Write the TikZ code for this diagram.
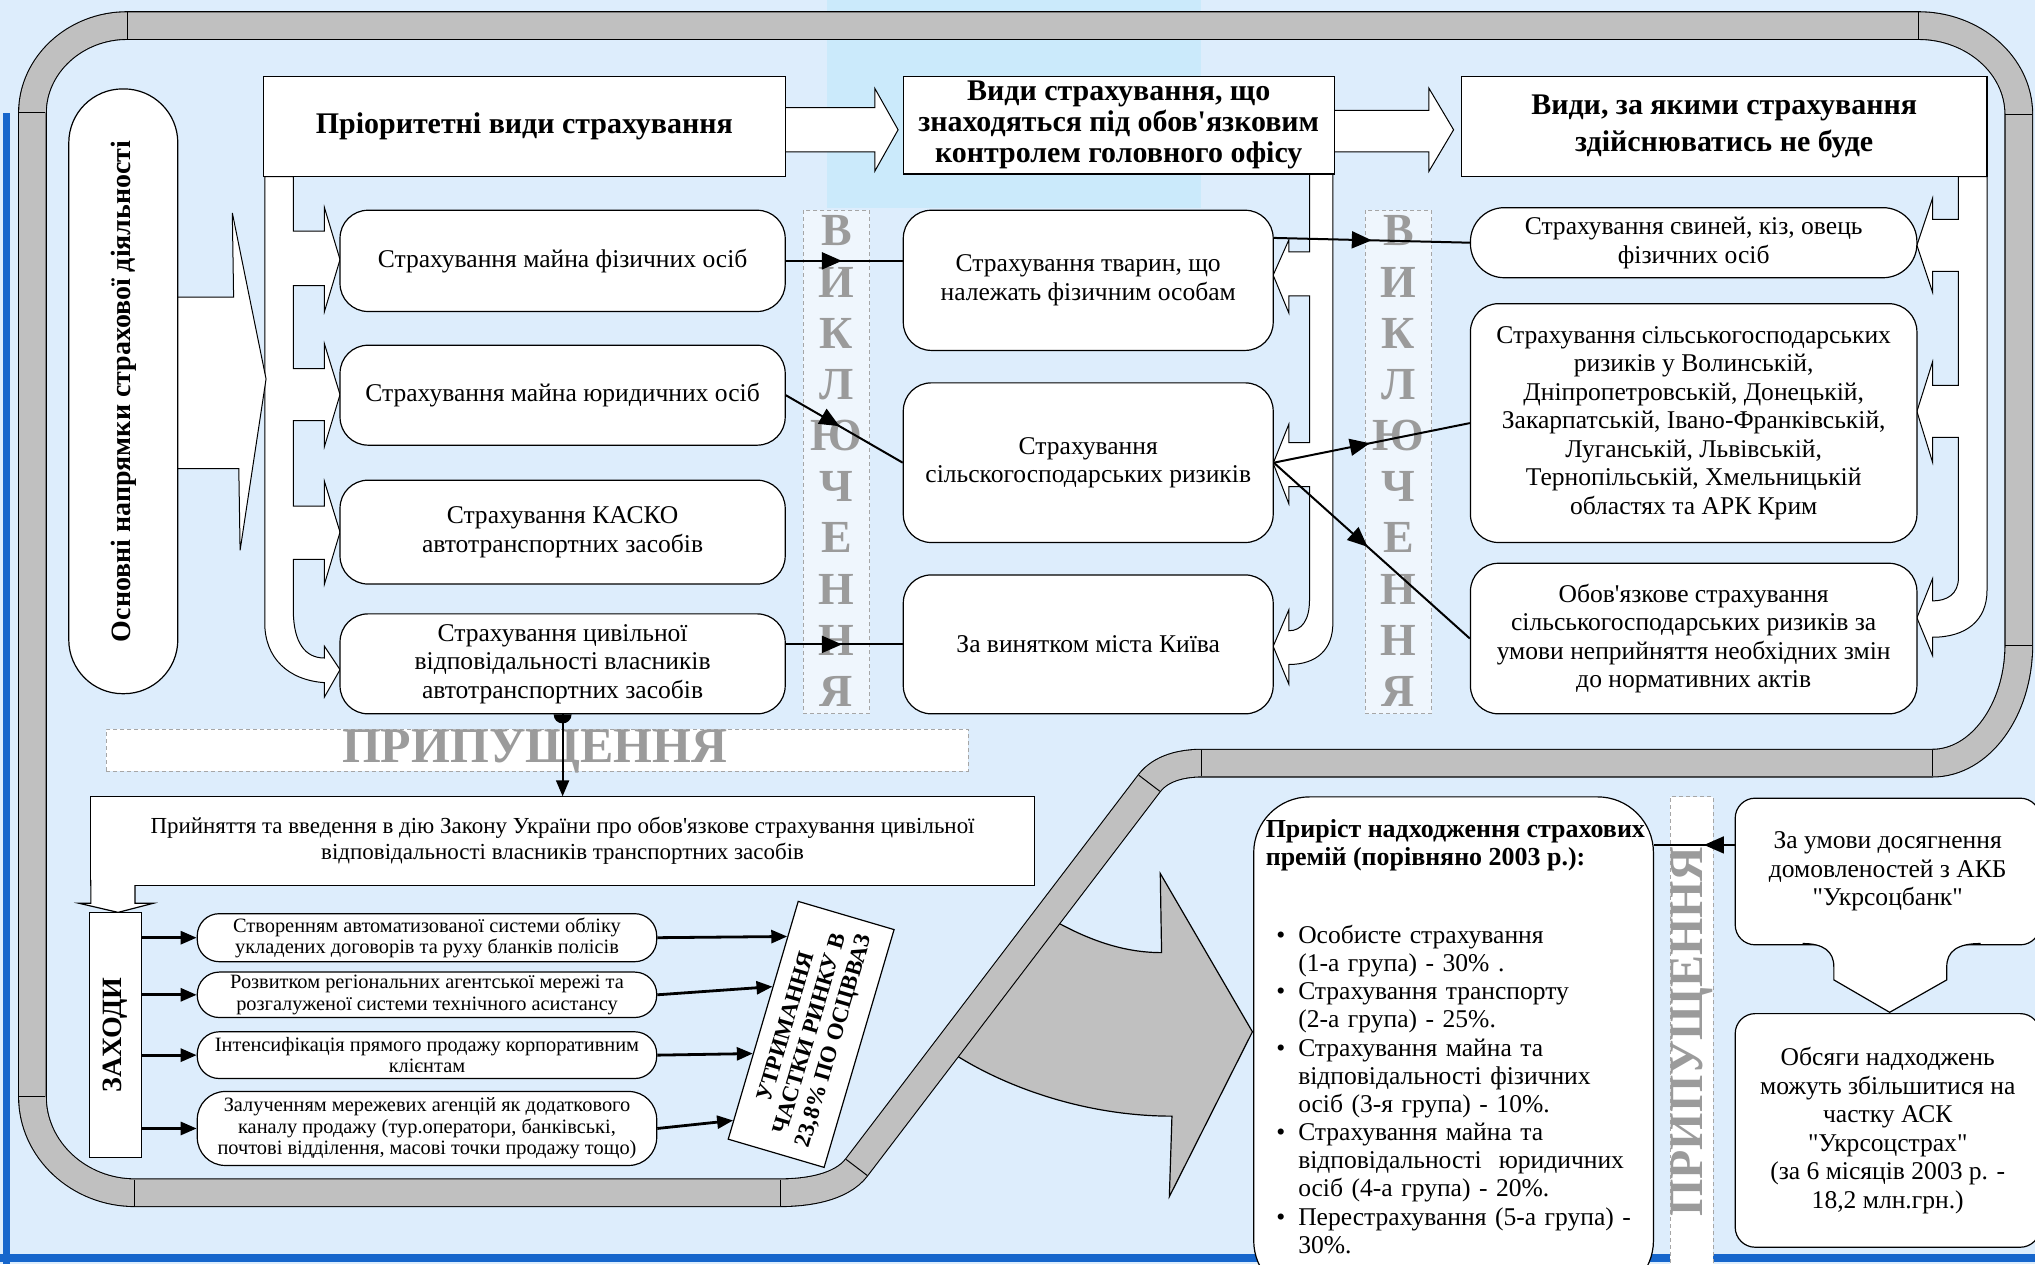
\documentclass[tikz,border=0pt]{standalone}
\usepackage{fontspec}
\setmainfont{Liberation Serif}
\usetikzlibrary{arrows.meta,calc,decorations.markings}

\definecolor{bgblue}{RGB}{221,237,252}
\definecolor{bandcyan}{RGB}{203,234,251}
\definecolor{edgeblue}{RGB}{22,102,204}
\definecolor{pipegray}{RGB}{192,192,192}
\definecolor{lettergray}{RGB}{155,155,155}

\newcommand{\pxu}{0.65pt}
\newcommand{\bodyfont}{\fontsize{12.8}{14.3}\selectfont}
\newcommand{\headfont}{\fontsize{15}{15.6}\selectfont\bfseries}
\newcommand{\smallfont}{\fontsize{10.2}{10.8}\selectfont}
\newcommand{\lawfont}{\fontsize{11.5}{13}\selectfont}
\newcommand{\ap}{\textquotesingle}
\newcommand{\qq}{\textquotedbl}

\begin{document}
\begin{tikzpicture}[
    x=0.65pt, y=-0.65pt,
    font=\bodyfont,
    sz/.style 2 args={minimum width={#1*\pxu}, minimum height={#2*\pxu}},
    box/.style={draw, fill=white, align=center, inner sep=1pt, line width=0.6pt},
    rbox/.style={box, rounded corners=14pt},
    head/.style={box, font=\headfont},
    pill/.style={box, rounded corners=#1, inner sep=0.5pt, font=\smallfont},
    pill/.default=11pt,
    strip/.style={draw=gray!70, dash pattern=on 2pt off 1.5pt, fill=white, fill opacity=0.55},
    vletter/.style={text=lettergray, font=\fontsize{23}{23}\selectfont\bfseries, inner sep=0pt},
    hollow/.style={draw, fill=white, line width=0.5pt},
    marr/.style={line width=1pt, postaction={decorate},
      decoration={markings, mark=at position #1 with {\arrow{Triangle[length=10pt,width=8.5pt]}}}},
    arr/.style={-{Triangle[length=8pt,width=6.5pt]}, line width=1.4pt}
  ]
  \useasboundingbox (0,0) rectangle (1568,974);
  \clip (0,0) rectangle (1568,974);

  % background
  \fill[bgblue] (0,0) rectangle (1568,974);
  \fill[bandcyan] (637,0) rectangle (925,160);
  \fill[edgeblue] (2,87) rectangle (8,974);
  \fill[edgeblue] (0,966) rectangle (1568,972);

  % big gray arrow under the pipe
  \filldraw[fill=pipegray, line width=0.6pt] (803,706) -- (817,712)
    .. controls (845,727) and (870,734) .. (895,734) -- (894,673) -- (965,795)
    -- (901,922) -- (903,860) .. controls (840,860) and (780,840) .. (738,814)
    -- (728,806) -- cycle;

  % pipe
  \draw[pipegray, line width=13.3pt, preaction={draw=black, line width=14.4pt}]
    (98,19.7) -- (1478,19.7) .. controls (1520.6,19.7) and (1555.5,50.4) .. (1555.5,88)
    -- (1555.5,497) .. controls (1555.5,547) and (1525.6,588) .. (1489,588)
    -- (926,588) .. controls (911,588) and (894.6,591.6) .. (885.5,603.5)
    -- (660,899.5) .. controls (647.9,915.4) and (621,919) .. (601,919)
    -- (104,919) .. controls (60.6,919) and (25,885.7) .. (25,845)
    -- (25,87) .. controls (25,50) and (57.9,19.7) .. (98,19.7) -- cycle;
  \foreach \xa/\ya/\xb/\yb in {98/9.4/98/30, 1478/9.4/1478/30, 1545/88/1566/88,
      1545/497/1566/497, 1489/578/1489/598, 926/578/926/598,
      877.4/597.3/893.7/609.7, 651.9/893.3/668.2/905.7,
      601/909/601/929, 104/909/104/929, 15/845/35/845, 15/87/35/87}
    \draw[line width=0.5pt] (\xa,\ya) -- (\xb,\yb);

  % dashed strips
  \node[strip, sz={51}{388}] (excl1) at (644.5,356) {};
  \node[strip, sz={51}{388}] (excl2) at (1077.5,356) {};
  \node[strip, sz={664}{32}, fill opacity=1] (assum1) at (414,578) {};
  \node[strip, sz={33}{380}, fill opacity=1] (assum2) at (1303.5,804) {};
  \foreach \ch [count=\i] in {В,И,К,Л,Ю,Ч,Е,Н,Н,Я} {
    \node[vletter] (exa\i) at (644.5,{178+39.4*(\i-1)}) {\ch};
    \node[vletter] (exb\i) at (1077.5,{178+39.4*(\i-1)}) {\ch};
  }
  \node[text=lettergray, font=\fontsize{25}{25}\selectfont\bfseries, inner sep=0pt]
    (assumtxt1) at (412,579) {ПРИПУЩЕННЯ};
  \node[text=lettergray, font=\fontsize{24}{24}\selectfont\bfseries, inner sep=0pt, rotate=90]
    (assumtxt2) at (1304,795) {ПРИПУЩЕННЯ};

  % header block arrows
  \filldraw[hollow] (605,83) -- (674,83) -- (674,68) -- (692,100) -- (674,132) -- (674,117) -- (605,117);
  \filldraw[hollow] (1028,85) -- (1101,85) -- (1101,68) -- (1120,100) -- (1101,132) -- (1101,117) -- (1028,117);

  % brackets
  \filldraw[hollow] (204,136) -- (226,136) -- (226,178) -- (250,178) -- (250,160) -- (262,200)
    -- (250,240) -- (250,220) -- (226,220) -- (226,284) -- (250,284) -- (250,265) -- (262,304)
    -- (250,344) -- (250,324) -- (226,324) -- (226,390) -- (250,390) -- (250,371) -- (262,410)
    -- (250,450) -- (250,431) -- (226,431) -- (226,470) .. controls (226,495) and (235,507) .. (250,507)
    -- (250,498) -- (262,516) -- (250,537) -- (250,526) .. controls (222,524) and (204,507) .. (204,480)
    -- cycle;
  \filldraw[hollow] (1027,134) -- (1009,134) -- (1009,194) -- (993,194) -- (993,185) -- (981,212)
    -- (993,241) -- (993,228) -- (1009,228) -- (1009,341) -- (993,341) -- (993,327) -- (981,357)
    -- (993,388) -- (993,375) -- (1009,375) -- (1009,462) .. controls (1009,478) and (1003,486) .. (993,486)
    -- (993,470) -- (981,498) -- (993,527) -- (993,512) .. controls (1015,512) and (1027,500) .. (1027,480)
    -- cycle;
  \filldraw[hollow] (1531,136) -- (1509,136) -- (1509,169) -- (1489,169) -- (1489,153) -- (1477,189)
    -- (1489,225) -- (1489,209) -- (1509,209) -- (1509,297) -- (1489,297) -- (1489,279) -- (1477,317)
    -- (1489,356) -- (1489,337) -- (1509,337) -- (1509,445) .. controls (1509,458) and (1500,463) .. (1489,463)
    -- (1489,446) -- (1477,476) -- (1489,505) -- (1489,491) .. controls (1515,491) and (1531,478) .. (1531,455)
    -- cycle;

  % main directions
  \filldraw[hollow] (100,229) -- (180,229) -- (179,164) -- (205,292) -- (185,424) -- (184,361) -- (100,361) -- cycle;
  \node[box, rotate=90, rounded corners=27pt, sz={466}{84}, font=\fontsize{14}{14}\selectfont\bfseries]
    (dirs) at (95,301.5) {Основні напрямки страхової діяльності};

  % headers
  \node[head, sz={402}{77}] (prio) at (404,97.5) {Пріоритетні види страхування};
  \node[head, sz={332}{75}] (ctrl) at (862,96.5)
    {Види страхування, що\\знаходяться під обов\ap{}язковим\\контролем головного офісу};
  \node[head, sz={405}{77}] (excl) at (1328.5,97.5) {Види, за якими страхування\\[3pt]здійснюватись не буде};

  % priority kinds
  \node[rbox, sz={343}{78}] (prop) at (433.5,201) {Страхування майна фізичних осіб};
  \node[rbox, sz={343}{77}] (legal) at (433.5,304.5) {Страхування майна юридичних осіб};
  \node[rbox, sz={343}{80}] (casco) at (433.5,410) {Страхування КАСКО\\автотранспортних засобів};
  \node[rbox, sz={343}{77}] (mtpl) at (433.5,511.5)
    {Страхування цивільної\\відповідальності власників\\автотранспортних засобів};

  % controlled kinds
  \node[rbox, sz={285}{108}] (anim) at (838.5,216) {Страхування тварин, що\\належать фізичним особам};
  \node[rbox, sz={285}{123}] (agri) at (838.5,356.5) {Страхування\\сільскогосподарських ризиків};
  \node[rbox, sz={285}{107}] (kyiv) at (838.5,496.5) {За винятком міста Київа};

  % excluded kinds
  \node[box, rounded corners=17pt, sz={344}{54}] (pigs) at (1305,187)
    {Страхування свиней, кіз, овець\\фізичних осіб};
  \node[rbox, sz={344}{184}] (regions) at (1305,326)
    {Страхування сільськогосподарських\\ризиків у Волинській,\\Дніпропетровській, Донецькій,\\Закарпатській, Івано-Франківській,\\Луганській, Львівській,\\Тернопільській, Хмельницькій\\областях та АРК Крим};
  \node[rbox, sz={344}{116}] (mand) at (1305,492)
    {Обов\ap{}язкове страхування\\сільськогосподарських ризиків за\\умови неприйняття необхідних змін\\до нормативних актів};

  % law and measures
  \node[box, sz={727}{68}, font=\lawfont] (law) at (433.5,648)
    {Прийняття та введення в дію Закону України про обов\ap{}язкове страхування цивільної\\відповідальності власників транспортних засобів};
  \fill[white] (70,680) -- (70,696) -- (61,696) -- (91,703) -- (118,696) -- (104,696) -- (104,680) -- cycle;
  \draw[line width=0.6pt] (70,678) -- (70,696) -- (61,696) -- (91,703) -- (118,696) -- (104,696) -- (104,682);
  \node[box, rotate=90, sz={189}{40}, font=\fontsize{14}{14}\selectfont\bfseries] (meas) at (89,797.5) {ЗАХОДИ};

  \node[pill, sz={354}{37}] (acc) at (329,722.5)
    {Створенням автоматизованої системи обліку\\укладених договорів та руху бланків полісів};
  \node[pill, sz={354}{35}] (agents) at (329,766.5)
    {Розвитком регіональних агентської мережі та\\розгалуженої системи технічного асистансу};
  \node[pill, sz={354}{36}] (direct) at (329,813)
    {Інтенсифікація прямого продажу корпоративним\\клієнтам};
  \node[pill=14pt, sz={354}{57}] (network) at (329,869.5)
    {Залученням мережевих агенцій як додаткового\\каналу продажу (тур.оператори, банківські,\\почтові відділення, масові точки продажу тощо)};

  \node[box, rotate=73.6, sz={191}{77}, font=\fontsize{11.5}{12.5}\selectfont\bfseries] (hold) at (625,797)
    {УТРИМАННЯ\\ЧАСТКИ РИНКУ В\\23,8\% ПО ОСЦВВАЗ};

  % premiums
  \node[box, rounded corners=28pt, sz={308}{385}] (prem) at (1120,806.5) {};
  \node[anchor=north west, align=left, inner sep=0pt, font=\fontsize{13}{14.3}\selectfont\bfseries]
    (premtitle) at (975,631) {Приріст надходження страхових\\премій (порівняно 2003 р.):};
  \node[anchor=north west, text width=188pt, inner sep=0pt, font=\fontsize{12.8}{14.1}\selectfont]
    (premlist) at (980,705) {%
    \begin{list}{\textbullet}{\setlength{\leftmargin}{13pt}\setlength{\labelwidth}{4.5pt}%
      \setlength{\labelsep}{6.5pt}\setlength{\itemsep}{0pt}\setlength{\parsep}{0pt}%
      \setlength{\topsep}{0pt}\setlength{\partopsep}{0pt}}
    \item Особисте страхування\\(1-а група) - 30\% .
    \item Страхування транспорту\\(2-а група) - 25\%.
    \item Страхування майна та\\відповідальності фізичних\\осіб (3-я група) - 10\%.
    \item Страхування майна та\\відповідальності\ \ юридичних\\осіб (4-а група) - 20\%.
    \item Перестрахування (5-а група) -\\30\%.
    \end{list}};

  \node[box, rounded corners=10pt, sz={235}{113}] (cond) at (1454.5,671.5)
    {За умови досягнення\\домовленостей з АКБ\\\qq{}Укрсоцбанк\qq};
  \fill[white] (1389,724) -- (1389,727) .. controls (1405,727) and (1413,733) .. (1413,745)
    -- (1413,755) -- (1456,780) -- (1500,755) -- (1500,745) .. controls (1500,733) and (1508,727) .. (1526,727)
    -- (1526,724) -- cycle;
  \draw[line width=0.6pt] (1389,727) .. controls (1405,727) and (1413,733) .. (1413,745)
    -- (1413,755) -- (1456,780) -- (1500,755) -- (1500,745) .. controls (1500,733) and (1508,727) .. (1526,727);
  \node[box, rounded corners=10pt, sz={235}{180}] (volume) at (1454.5,871)
    {Обсяги надходжень\\можуть збільшитися на\\частку АСК\\\qq{}Укрсоцстрах\qq\\(за 6 місяців 2003 р. -\\18,2 млн.грн.)};

  % connectors
  \draw[marr=0.48] (prop.east) -- (prop.east -| anim.west);
  \draw[marr=0.46] (legal.east) -- (agri.west);
  \draw[marr=0.48] (mtpl.east |- kyiv.west) -- (kyiv.west);
  \draw[marr=0.5] ($(anim.north east)!0.2!(anim.south east)$) -- (pigs.west);
  \draw[marr=0.49] (agri.east) -- (regions.west);
  \draw[marr=0.48] (agri.east) -- (mand.west);
  \fill (mtpl.south) ++(-4.5pt,0) arc[start angle=180, end angle=360, radius=4.5pt] -- cycle;
  \draw[arr, line width=1pt] (mtpl.south) -- (law.north);
  \foreach \n in {acc,agents,direct,network}
    \draw[arr] (meas.south |- \n.west) -- (\n.west);
  \draw[arr] (acc.east) -- ($(hold.north west)!0.85!(hold.north east)$);
  \draw[arr] (agents.east) -- ($(hold.north west)!0.64!(hold.north east)$);
  \draw[arr] (direct.east) -- ($(hold.north west)!0.36!(hold.north east)$);
  \draw[arr] (network.east) -- ($(hold.north west)!0.08!(hold.north east)$);
  \coordinate (condin) at ([yshift=13.3pt]cond.west);
  \draw[marr=0.38] (condin) -- (condin -| prem.east);
\end{tikzpicture}
\end{document}
